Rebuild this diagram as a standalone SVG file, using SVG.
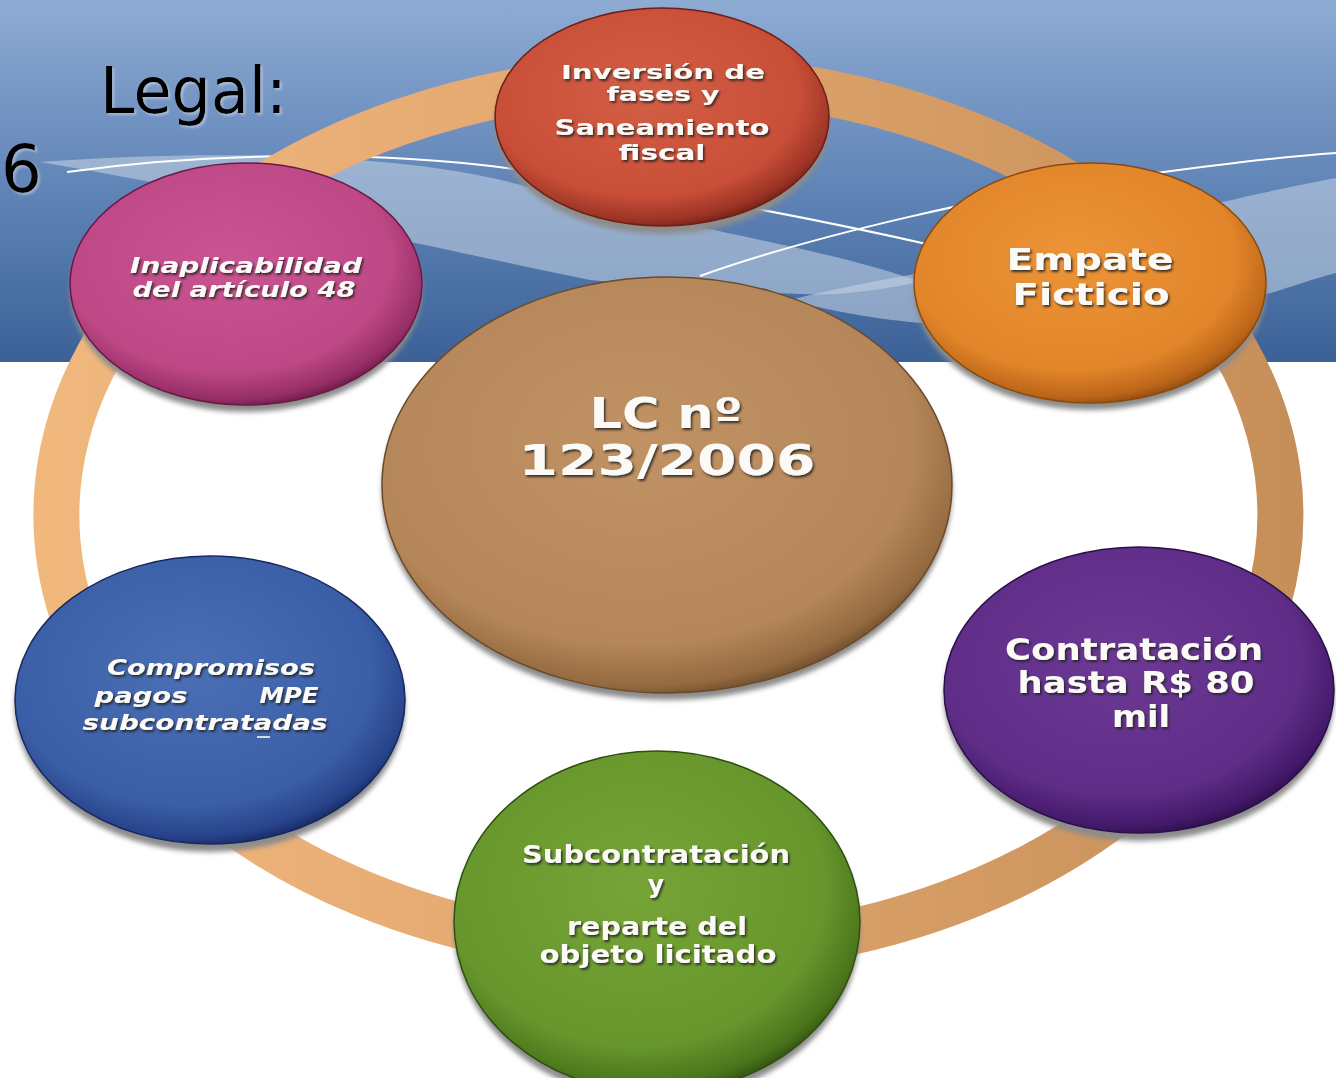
<svg xmlns="http://www.w3.org/2000/svg" width="1336" height="1078" viewBox="0 0 1336 1078">
<style>
.lbl{font-family:"DejaVu Sans","Liberation Sans",sans-serif;font-weight:bold;fill:#fbfaf6;text-anchor:middle;filter:url(#ts)}
.it{font-style:italic}
.hd{font-family:"DejaVu Sans","Liberation Sans",sans-serif;fill:#000;filter:url(#hs)}
.ring{fill:none;stroke:url(#ringG);stroke-width:46}
.shadow{fill:#8c8c8c;filter:url(#blur)}
.wl{fill:none;stroke:#fff;stroke-width:2}
.band{fill:#c9d6e6;opacity:0.55}
</style>
<defs>
<linearGradient id="hdr" x1="0" y1="0" x2="0" y2="1">
<stop offset="0" stop-color="#8eabd3"/>
<stop offset="0.5" stop-color="#6286b8"/>
<stop offset="1" stop-color="#3b6197"/>
</linearGradient>
<linearGradient id="ringG" gradientUnits="userSpaceOnUse" x1="0" y1="0" x2="1336" y2="0">
<stop offset="0" stop-color="#f2b97f"/>
<stop offset="0.5" stop-color="#e0a56d"/>
<stop offset="1" stop-color="#c48d57"/>
</linearGradient>
<filter id="blur" x="-10%" y="-10%" width="120%" height="130%"><feGaussianBlur stdDeviation="2.5"/></filter>
<filter id="ts" x="-5%" y="-20%" width="110%" height="150%"><feDropShadow dx="1.5" dy="2" stdDeviation="1" flood-color="#1a1a1a" flood-opacity="0.85"/></filter>
<filter id="hs" x="-5%" y="-10%" width="110%" height="130%"><feDropShadow dx="2" dy="2" stdDeviation="1" flood-color="#fff" flood-opacity="0.35"/></filter>
<radialGradient id="gRed" cx="0.45" cy="0.4" r="0.62"><stop offset="0" stop-color="#d45e45"/><stop offset="0.75" stop-color="#c84e38"/><stop offset="0.93" stop-color="#9a3324"/><stop offset="1" stop-color="#6e1f14"/></radialGradient>
<radialGradient id="gOra" cx="0.45" cy="0.4" r="0.62"><stop offset="0" stop-color="#ec9438"/><stop offset="0.75" stop-color="#e2852a"/><stop offset="0.93" stop-color="#bb6518"/><stop offset="1" stop-color="#8a4a10"/></radialGradient>
<radialGradient id="gPur" cx="0.45" cy="0.4" r="0.62"><stop offset="0" stop-color="#6c3a95"/><stop offset="0.75" stop-color="#5f2d87"/><stop offset="0.93" stop-color="#43196a"/><stop offset="1" stop-color="#2b0f48"/></radialGradient>
<radialGradient id="gGrn" cx="0.45" cy="0.4" r="0.62"><stop offset="0" stop-color="#76a437"/><stop offset="0.75" stop-color="#67962c"/><stop offset="0.93" stop-color="#4a741b"/><stop offset="1" stop-color="#2f4f10"/></radialGradient>
<radialGradient id="gBlu" cx="0.45" cy="0.4" r="0.62"><stop offset="0" stop-color="#4a6fb5"/><stop offset="0.75" stop-color="#3b5fa6"/><stop offset="0.93" stop-color="#27428a"/><stop offset="1" stop-color="#16285d"/></radialGradient>
<radialGradient id="gPnk" cx="0.45" cy="0.4" r="0.62"><stop offset="0" stop-color="#c95592"/><stop offset="0.75" stop-color="#bd4885"/><stop offset="0.93" stop-color="#962e66"/><stop offset="1" stop-color="#681944"/></radialGradient>
<radialGradient id="gBrn" cx="0.45" cy="0.4" r="0.62"><stop offset="0" stop-color="#c19264"/><stop offset="0.78" stop-color="#b58659"/><stop offset="0.94" stop-color="#946a40"/><stop offset="1" stop-color="#6b4a2a"/></radialGradient>
</defs>

<g id="background">
<rect x="0" y="0" width="1336" height="1078" fill="#fff"/>
<rect x="0" y="0" width="1336" height="362" fill="url(#hdr)"/>
<path class="band" d="M 40 162 C 200 150 400 152 517 184 C 600 205 680 222 723 232 C 800 248 880 266 920 282 C 880 290 840 296 800 294 C 700 290 640 284 590 280 C 520 266 460 252 415 243 C 320 222 230 198 156 183 C 110 174 70 167 40 162 Z"/>
<path class="band" d="M 790 300 C 830 290 870 282 915 274 C 1020 252 1120 225 1218 203 C 1260 193 1300 185 1336 178 L 1336 273 C 1310 280 1290 287 1271 293 C 1150 315 1030 322 924 323 C 880 320 840 312 818 307 C 805 304 796 302 790 300 Z"/>
<path class="wl" d="M 67 172 C 220 150 400 152 520 170 C 640 186 800 215 940 247"/>
<path class="wl" d="M 700 276 C 800 240 1000 190 1156 173 C 1230 163 1290 156 1336 153"/>
<text class="hd" x="100" y="113" font-size="64" textLength="187" lengthAdjust="spacingAndGlyphs">Legal:</text>
<text class="hd" x="1" y="192" font-size="66" textLength="41" lengthAdjust="spacingAndGlyphs">6</text>
</g>

<g id="connectors">
<path class="ring" d="M 668 78 A 612 437 0 0 1 1153 248"/>
<path class="ring" d="M 1153 248 A 612 437 0 0 1 1211 717"/>
<path class="ring" d="M 1211 717 A 612 437 0 0 1 668 952"/>
<path class="ring" d="M 668 952 A 612 437 0 0 1 138 733"/>
<path class="ring" d="M 138 733 A 612 437 0 0 1 186 246"/>
<path class="ring" d="M 186 246 A 612 437 0 0 1 668 78"/>
</g>

<g id="node-center">
<ellipse class="shadow" cx="667" cy="492" rx="285" ry="208"/>
<ellipse cx="667" cy="485" rx="285" ry="208" fill="url(#gBrn)" stroke="#6b4a2a" stroke-width="1.5"/>
<text class="lbl" x="666" y="428" font-size="42" textLength="153" lengthAdjust="spacingAndGlyphs">LC nº</text>
<text class="lbl" x="667" y="475" font-size="42" textLength="297" lengthAdjust="spacingAndGlyphs">123/2006</text>
</g>

<g id="node-inversion">
<ellipse class="shadow" cx="662" cy="124" rx="167" ry="110"/>
<ellipse cx="662" cy="117" rx="167" ry="109" fill="url(#gRed)" stroke="#6e1f14" stroke-width="1.5"/>
<text class="lbl" x="663" y="79" font-size="20" textLength="204" lengthAdjust="spacingAndGlyphs">Inversión de</text>
<text class="lbl" x="663" y="101" font-size="20" textLength="113" lengthAdjust="spacingAndGlyphs">fases y</text>
<text class="lbl" x="662" y="135" font-size="21" textLength="215" lengthAdjust="spacingAndGlyphs">Saneamiento</text>
<text class="lbl" x="662" y="160" font-size="21" textLength="87" lengthAdjust="spacingAndGlyphs">fiscal</text>
</g>

<g id="node-empate">
<ellipse class="shadow" cx="1090" cy="290" rx="176" ry="120"/>
<ellipse cx="1090" cy="283" rx="176" ry="120" fill="url(#gOra)" stroke="#8a4a10" stroke-width="1.5"/>
<text class="lbl" x="1090" y="270" font-size="31" textLength="167" lengthAdjust="spacingAndGlyphs">Empate</text>
<text class="lbl" x="1091" y="305" font-size="31" textLength="157" lengthAdjust="spacingAndGlyphs">Ficticio</text>
</g>

<g id="node-contratacion">
<ellipse class="shadow" cx="1139" cy="697" rx="195" ry="144"/>
<ellipse cx="1139" cy="690" rx="195" ry="143" fill="url(#gPur)" stroke="#2b0f48" stroke-width="1.5"/>
<text class="lbl" x="1134" y="660" font-size="30" textLength="258" lengthAdjust="spacingAndGlyphs">Contratación</text>
<text class="lbl" x="1136" y="693" font-size="30" textLength="237" lengthAdjust="spacingAndGlyphs">hasta R$ 80</text>
<text class="lbl" x="1141" y="727" font-size="30" textLength="58" lengthAdjust="spacingAndGlyphs">mil</text>
</g>

<g id="node-subcontratacion">
<ellipse class="shadow" cx="657" cy="929" rx="203" ry="172"/>
<ellipse cx="657" cy="922" rx="203" ry="171" fill="url(#gGrn)" stroke="#2f4f10" stroke-width="1.5"/>
<text class="lbl" x="656" y="863" font-size="25" textLength="268" lengthAdjust="spacingAndGlyphs">Subcontratación</text>
<text class="lbl" x="656" y="893" font-size="25">y</text>
<text class="lbl" x="657" y="935" font-size="25" textLength="180" lengthAdjust="spacingAndGlyphs">reparte del</text>
<text class="lbl" x="658" y="963" font-size="25" textLength="237" lengthAdjust="spacingAndGlyphs">objeto licitado</text>
</g>

<g id="node-compromisos">
<ellipse class="shadow" cx="210" cy="707" rx="195" ry="145"/>
<ellipse cx="210" cy="700" rx="195" ry="144" fill="url(#gBlu)" stroke="#16285d" stroke-width="1.5"/>
<text class="lbl it" x="211" y="675" font-size="21" textLength="208" lengthAdjust="spacingAndGlyphs">Compromisos</text>
<text class="lbl it" x="141" y="703" font-size="21" textLength="93" lengthAdjust="spacingAndGlyphs">pagos</text>
<text class="lbl it" x="289" y="703" font-size="21" textLength="59" lengthAdjust="spacingAndGlyphs">MPE</text>
<text class="lbl it" x="205" y="730" font-size="21" textLength="245" lengthAdjust="spacingAndGlyphs">subcontratadas</text>
<line x1="257" y1="737" x2="270" y2="737" stroke="#d8d8e0" stroke-width="2"/>
</g>

<g id="node-inaplicabilidad">
<ellipse class="shadow" cx="246" cy="291" rx="176" ry="121"/>
<ellipse cx="246" cy="284" rx="176" ry="121" fill="url(#gPnk)" stroke="#681944" stroke-width="1.5"/>
<text class="lbl it" x="246" y="273" font-size="21" textLength="232" lengthAdjust="spacingAndGlyphs">Inaplicabilidad</text>
<text class="lbl it" x="244" y="297" font-size="21" textLength="223" lengthAdjust="spacingAndGlyphs">del artículo 48</text>
</g>
</svg>
